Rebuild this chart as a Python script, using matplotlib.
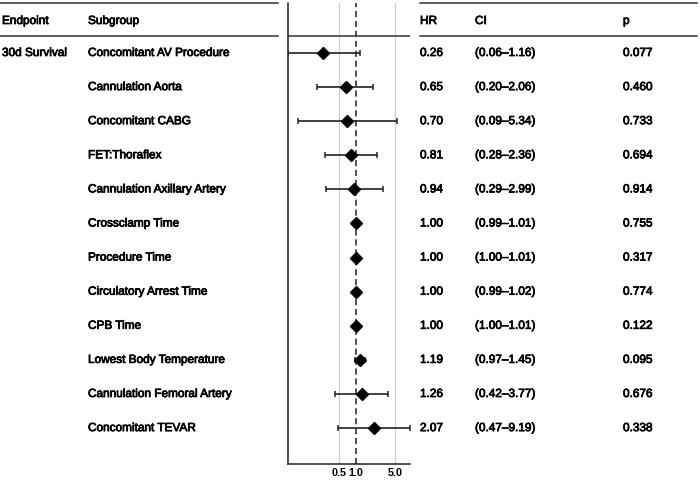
import matplotlib
matplotlib.use("Agg")
import matplotlib.pyplot as plt
import matplotlib.patheffects as pe
import numpy as np

plt.rcParams['font.family'] = ['Liberation Sans', 'DejaVu Sans']

endpoint = ["30d Survival"] + [""] * 11
subgroups = ["Concomitant AV Procedure", "Cannulation Aorta", "Concomitant CABG",
             "FET:Thoraflex", "Cannulation Axillary Artery", "Crossclamp Time",
             "Procedure Time", "Circulatory Arrest Time", "CPB Time",
             "Lowest Body Temperature", "Cannulation Femoral Artery", "Concomitant TEVAR"]
hr = [0.26, 0.65, 0.70, 0.81, 0.94, 1.00, 1.00, 1.00, 1.00, 1.19, 1.26, 2.07]
ci_lo = [0.06, 0.20, 0.09, 0.28, 0.29, 0.99, 1.00, 0.99, 1.00, 0.97, 0.42, 0.47]
ci_hi = [1.16, 2.06, 5.34, 2.36, 2.99, 1.01, 1.01, 1.02, 1.01, 1.45, 3.77, 9.19]
pvals = ["0.077", "0.460", "0.733", "0.694", "0.914", "0.755", "0.317", "0.774",
         "0.122", "0.095", "0.676", "0.338"]
headers = ["Endpoint", "Subgroup", "HR", "CI", "p"]
xticks = [0.5, 1.0, 5.0]
xticklabels = ["0.5", "1.0", "5.0"]

W, H = 700, 480
fig = plt.figure(figsize=(7, 4.8), dpi=100)

# background axes in pixel coords
bg = fig.add_axes([0, 0, 1, 1])
bg.set_xlim(0, W)
bg.set_ylim(H, 0)
bg.axis('off')

row0, step = 53, 34.1
ys = [row0 + step * i for i in range(len(subgroups))]
head_y = 21
top_line, head_line = 3, 36
fs = 8.5
heavy = [pe.withStroke(linewidth=0.55, foreground='black')]
txtkw = dict(fontsize=fs, fontweight='normal', va='center', ha='left', color='black',
             path_effects=heavy)

col_x = [2, 88, 420, 475, 623]
for x, h in zip(col_x, headers):
    bg.text(x, head_y, h, **txtkw)
for i, y in enumerate(ys):
    bg.text(col_x[0], y, endpoint[i], **txtkw)
    bg.text(col_x[1], y, subgroups[i], **txtkw)
    bg.text(col_x[2], y, f"{hr[i]:.2f}", **txtkw)
    bg.text(col_x[3], y, f"({ci_lo[i]:.2f}\u2013{ci_hi[i]:.2f})", **txtkw)
    bg.text(col_x[4], y, pvals[i], **txtkw)

lc = '#333333'
for yl in (top_line, head_line):
    bg.plot([0, 278], [yl, yl], color=lc, lw=1.1)
    bg.plot([420, 697], [yl, yl], color=lc, lw=1.1)

# forest axes
left_px, right_px, top_px, bot_px = 288, 410, 3, 464
ax = fig.add_axes([left_px / W, 1 - bot_px / H, (right_px - left_px) / W, (bot_px - top_px) / H])
ax.set_xscale('log')
ax.set_xlim(0.0605, 9.3)
ax.set_ylim(bot_px, top_px)
ax.patch.set_alpha(0)

for gx in (0.5, 5.0):
    ax.axvline(gx, color='#cfcfcf', lw=0.9, zorder=0)
ax.axvline(1.0, color='#222222', lw=1.1, ls=(0, (4, 2.5)), zorder=1)
ax.axhline(head_line, color=lc, lw=1.1)

hr_a = np.array(hr)
err = np.vstack([hr_a - np.array(ci_lo), np.array(ci_hi) - hr_a])
ax.errorbar(hr, ys, xerr=err, fmt='D', color='black', ecolor='#222222',
            elinewidth=1.2, capsize=2.3, capthick=1.1, markersize=6.4, zorder=3)

for s in ('top', 'right'):
    ax.spines[s].set_visible(False)
for s in ('left', 'bottom'):
    ax.spines[s].set_color('#222222')
    ax.spines[s].set_linewidth(1.1)
ax.set_yticks([])
ax.set_xticks(xticks)
ax.set_xticklabels(xticklabels, fontsize=7.8, fontweight='bold')
ax.xaxis.set_minor_locator(matplotlib.ticker.NullLocator())
ax.tick_params(axis='x', length=0, pad=3)

fig.savefig("out.png", dpi=100)
